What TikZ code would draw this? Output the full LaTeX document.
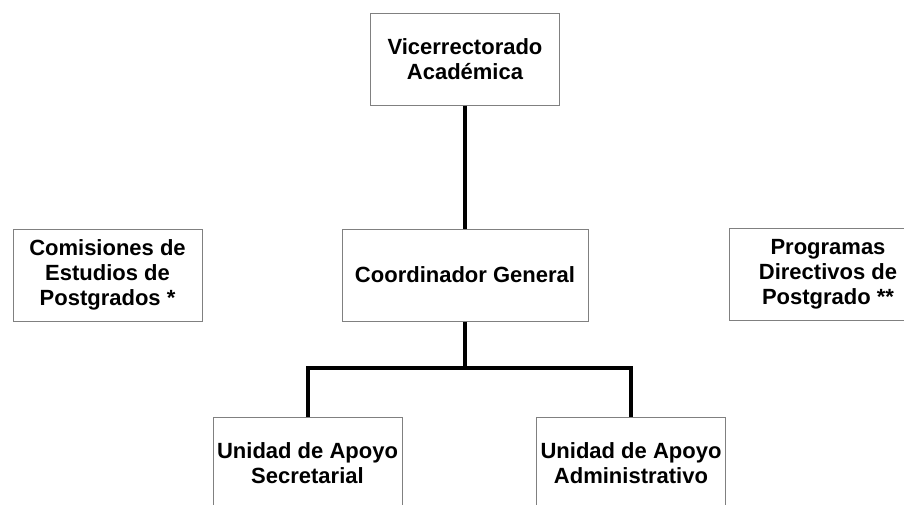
\documentclass[tikz,border=0pt]{standalone}
\usepackage{fontspec}
\setmainfont{Liberation Sans}
\usetikzlibrary{positioning}

\begin{document}
\begin{tikzpicture}[
  x=0.5pt, y=-0.5pt,
  box/.style={draw=gray, line width=0.5pt, minimum height=46pt, minimum width=94.5pt, align=center, inner sep=0pt, font=\fontsize{11}{12.5}\selectfont\bfseries},
  link/.style={line width=2pt, line join=miter}
]
\useasboundingbox (0,0) rectangle (904,504);
\clip (0,0) rectangle (904,504);
\node[box] (vice)  at (465,59)    {Vicerrectorado\\Acad\'emica};
\node[box, minimum width=123pt] (coord) at (465,275) {Coordinador General};
\node[box] (comis) at (107.5,275) {Comisiones de\\Estudios de\\Postgrados *};
% box runs off the right edge
\node[box, minimum width=140pt] (prog) at (869,274.5)
  {\begin{tabular}{@{}c@{}}Programas\\Directivos de\\Postgrado **\end{tabular}\hspace{41pt}};
\node[box] (sec)   at (307.5,463) {Unidad de Apoyo\\Secretarial};
\node[box] (adm)   at (631,463)   {Unidad de Apoyo\\Administrativo};
\coordinate (junc) at (465,368);
\draw[link] (vice) -- (coord);
\draw[link] (coord) -- (junc);
\draw[link] (sec.north) |- (junc) -| (adm.north);
\end{tikzpicture}
\end{document}
